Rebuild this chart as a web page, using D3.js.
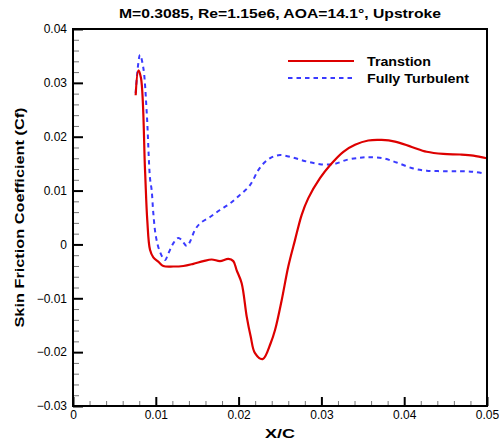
<!DOCTYPE html>
<html>
<head>
<meta charset="utf-8">
<script src="https://cdn.jsdelivr.net/npm/d3@7"></script>
<style>
  body { margin: 0; background: #fff; }
  svg { font-family: "Liberation Sans", Arial, sans-serif; }
</style>
</head>
<body>
<div id="chart"></div>
<script>
const title = 'M=0.3085, Re=1.15e6, AOA=14.1\u00b0, Upstroke';
const xTicks = [0, 0.01, 0.02, 0.03, 0.04, 0.05];
const yTicks = [-0.03, -0.02, -0.01, 0, 0.01, 0.02, 0.03, 0.04];
const seriesNames = ['Transtion', 'Fully Turbulent'];

// x/c, Cf
const transition = [
  [0.00757, 0.0277], [0.00789, 0.0323], [0.00821, 0.0309], [0.00870, 0.0138],
  [0.00897, 0.0045], [0.00930, -0.0010], [0.00970, -0.0024], [0.01030, -0.0032],
  [0.01091, -0.0040], [0.01211, -0.0041], [0.01332, -0.0040], [0.01453, -0.0036],
  [0.01574, -0.0031], [0.01675, -0.0028], [0.01775, -0.0031], [0.01876, -0.0027],
  [0.01936, -0.0031], [0.01977, -0.0048], [0.02037, -0.0072], [0.02098, -0.0134],
  [0.02146, -0.0171], [0.02198, -0.0202], [0.02291, -0.0213], [0.02388, -0.0183],
  [0.02440, -0.0159], [0.02521, -0.0103], [0.02600, -0.0041], [0.02681, 0.0008],
  [0.02762, 0.0055], [0.02842, 0.0086], [0.02983, 0.0123], [0.03104, 0.0147],
  [0.03265, 0.0172], [0.03406, 0.0185], [0.03566, 0.0193], [0.03728, 0.0194],
  [0.03889, 0.0191], [0.04091, 0.0181], [0.04272, 0.0172], [0.04472, 0.0168],
  [0.04674, 0.0167], [0.04835, 0.0165], [0.04996, 0.0160]
];
const turbulent = [
  [0.00757, 0.0281], [0.00809, 0.0352], [0.00849, 0.0328], [0.00890, 0.0246],
  [0.00930, 0.0123], [0.00950, 0.0101], [0.00970, 0.0058], [0.01002, 0.0014],
  [0.01051, -0.0014], [0.01111, -0.0029], [0.01151, -0.0017], [0.01211, 0.0002],
  [0.01272, 0.0012], [0.01313, 0.0008], [0.01373, -0.0003], [0.01413, 0.0005],
  [0.01473, 0.0027], [0.01534, 0.0039], [0.01655, 0.0051], [0.01775, 0.0064],
  [0.01896, 0.0076], [0.02017, 0.0092], [0.02138, 0.0110], [0.02238, 0.0138],
  [0.02319, 0.0153], [0.02403, 0.0162], [0.02500, 0.0166], [0.02661, 0.0161],
  [0.02822, 0.0154], [0.02983, 0.0149], [0.03144, 0.0149], [0.03306, 0.0157],
  [0.03466, 0.0161], [0.03587, 0.0162], [0.03748, 0.0160], [0.03909, 0.0152],
  [0.04110, 0.0141], [0.04272, 0.0137], [0.04472, 0.0136], [0.04674, 0.0136],
  [0.04835, 0.0135], [0.04955, 0.0132]
];

const w = 499, h = 444;
const m = { top: 29, right: 12, bottom: 38, left: 73 };

const x = d3.scaleLinear().domain([0, 0.05]).range([m.left, w - m.right]);
const y = d3.scaleLinear().domain([-0.03, 0.04]).range([h - m.bottom, m.top]);

const svg = d3.select('#chart').append('svg')
  .attr('width', w)
  .attr('height', h);

// the original's font runs wider than Liberation, so stretch titles to its widths
svg.append('text')
  .attr('x', (m.left + w - m.right) / 2)
  .attr('y', 18)
  .attr('text-anchor', 'middle')
  .attr('font-weight', 'bold')
  .attr('font-size', 13)
  .attr('textLength', 322)
  .attr('lengthAdjust', 'spacingAndGlyphs')
  .text(title);

// minor ticks every 0.002, pointing inward
const xMinor = d3.range(0, 0.0501, 0.002).filter(v => Math.abs(v / 0.01 - Math.round(v / 0.01)) > 1e-6);
const yMinor = d3.range(-0.03, 0.0401, 0.002).filter(v => Math.abs(v / 0.01 - Math.round(v / 0.01)) > 1e-6);

svg.append('g')
  .attr('transform', `translate(0,${h - m.bottom})`)
  .call(d3.axisBottom(x).tickValues(xMinor).tickSize(-5).tickFormat(''))
  .call(g => g.select('.domain').remove())
  .call(g => g.selectAll('line').attr('stroke', '#777'));

svg.append('g')
  .attr('transform', `translate(${m.left},0)`)
  .call(d3.axisLeft(y).tickValues(yMinor).tickSize(-6).tickFormat(''))
  .call(g => g.select('.domain').remove())
  .call(g => g.selectAll('line').attr('stroke', '#777'));

const xAxis = svg.append('g')
  .attr('transform', `translate(0,${h - m.bottom})`)
  .call(d3.axisBottom(x).tickValues(xTicks).tickSize(-9).tickPadding(4).tickFormat(d3.format('~g')))
  .call(g => g.select('.domain').remove());
xAxis.selectAll('line').attr('stroke', '#000').attr('stroke-width', 2);
xAxis.selectAll('text').attr('font-size', 12).attr('fill', '#000');

const yAxis = svg.append('g')
  .attr('transform', `translate(${m.left},0)`)
  .call(d3.axisLeft(y).tickValues(yTicks).tickSize(-10).tickPadding(6).tickFormat(d3.format('~g')))
  .call(g => g.select('.domain').remove());
yAxis.selectAll('line').attr('stroke', '#000').attr('stroke-width', 2);
yAxis.selectAll('text').attr('font-size', 12).attr('fill', '#000');

// curves
const line = d3.line()
  .x(d => x(d[0]))
  .y(d => y(d[1]))
  .curve(d3.curveCatmullRom.alpha(0.5));

svg.append('path')
  .datum(turbulent)
  .attr('fill', 'none')
  .attr('stroke', '#3a3aff')
  .attr('stroke-width', 2)
  .attr('stroke-dasharray', '4.5,4')
  .attr('d', line);

svg.append('path')
  .datum(transition)
  .attr('fill', 'none')
  .attr('stroke', '#dd0000')
  .attr('stroke-width', 2.2)
  .attr('d', line);

// frame
svg.append('rect')
  .attr('x', m.left)
  .attr('y', m.top)
  .attr('width', w - m.right - m.left)
  .attr('height', h - m.bottom - m.top)
  .attr('fill', 'none')
  .attr('stroke', '#000')
  .attr('stroke-width', 2);

// legend
const legend = svg.append('g').attr('transform', 'translate(288,61)');
const styles = [
  { stroke: '#dd0000', dash: null, len: 64 },
  { stroke: '#3a3aff', dash: '4.5,4', len: 102 }
];
seriesNames.forEach((name, i) => {
  const g = legend.append('g').attr('transform', `translate(0,${i * 17})`);
  g.append('line')
    .attr('x1', 0).attr('x2', 66)
    .attr('stroke', styles[i].stroke)
    .attr('stroke-width', 2)
    .attr('stroke-dasharray', styles[i].dash);
  g.append('text')
    .attr('x', 79)
    .attr('y', 4.5)
    .attr('font-weight', 'bold')
    .attr('font-size', 12.5)
    .attr('textLength', styles[i].len)
    .attr('lengthAdjust', 'spacingAndGlyphs')
    .text(name);
});

// axis titles
svg.append('text')
  .attr('x', (m.left + w - m.right) / 2)
  .attr('y', 438)
  .attr('text-anchor', 'middle')
  .attr('font-weight', 'bold')
  .attr('font-size', 13)
  .attr('textLength', 30)
  .attr('lengthAdjust', 'spacingAndGlyphs')
  .text('X/C');

svg.append('text')
  .attr('transform', `translate(24,${(m.top + h - m.bottom) / 2})rotate(-90)`)
  .attr('text-anchor', 'middle')
  .attr('font-weight', 'bold')
  .attr('font-size', 13)
  .attr('textLength', 220)
  .attr('lengthAdjust', 'spacingAndGlyphs')
  .text('Skin Friction Coefficient (Cf)');
</script>
</body>
</html>
